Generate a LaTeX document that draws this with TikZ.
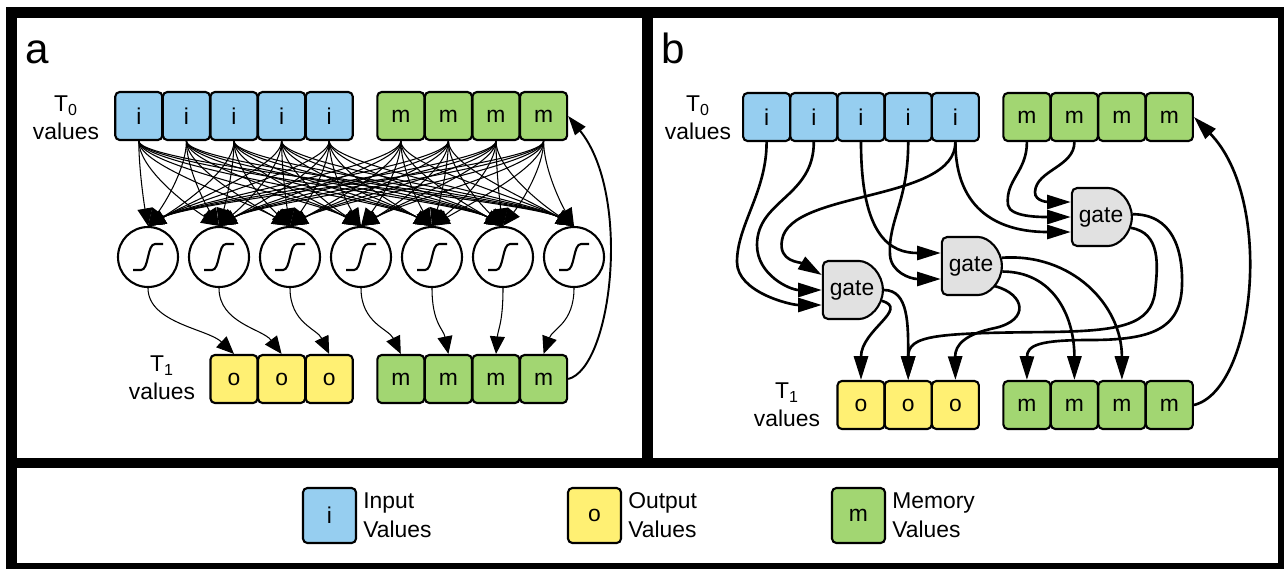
\documentclass[tikz,border=0pt]{standalone}
\usepackage{fontspec}
\setmainfont{Liberation Sans}
\usetikzlibrary{arrows.meta,calc,positioning,shapes.misc}
\definecolor{inblue}{RGB}{150,206,240}
\definecolor{memgreen}{RGB}{162,214,114}
\definecolor{outyellow}{RGB}{255,240,115}
\definecolor{gategray}{RGB}{225,225,225}
\newlength\pxu
\setlength\pxu{0.02cm}

\begin{document}
\begin{tikzpicture}[x=0.02cm,y=-0.02cm,
valbox/.style={rectangle,rounded corners=2.5pt,draw=black,line width=1.2pt,minimum width=47*\pxu,minimum height=48*\pxu,inner sep=0pt,font=\fontsize{13}{16}\selectfont},
inval/.style={valbox,fill=inblue},
outval/.style={valbox,fill=outyellow},
memval/.style={valbox,fill=memgreen},
squash/.style={circle,draw=black,line width=1.2pt,minimum size=60*\pxu,inner sep=0pt},
gatebox/.style={rounded rectangle,rounded rectangle west arc=none,rounded corners=3pt,draw=black,line width=1.2pt,fill=gategray,minimum width=60*\pxu,minimum height=58*\pxu,inner sep=0pt,font=\fontsize{13}{16}\selectfont},
thinedge/.style={line width=0.6pt,-{Triangle[length=10pt,width=8.5pt]}},
thickedge/.style={line width=1.5pt,-{Triangle[length=13.5pt,width=8pt]}},
rowlabel/.style={align=center,font=\fontsize{13}{16}\selectfont},
legtext/.style={align=left,inner sep=0pt,font=\fontsize{13}{16.4}\selectfont},
panellabel/.style={anchor=base west,inner sep=0pt,font=\fontsize{24}{28}\selectfont}]

% frame
\useasboundingbox (0,0) rectangle (1284,569);
\fill[black] (6,7) rectangle (1284,569);
\fill[white] (17,18) rectangle (642,458);
\fill[white] (653,18) rectangle (1278,458);
\fill[white] (17,468) rectangle (1278,563);

%%% panel a
\node[panellabel] (alabel) at (25,63) {a};
\node[rowlabel] (a0lab) at (66,118) {T\textsubscript{0}\\values};
\foreach \k in {1,...,5}
  \node[inval] (ai\k) at ({91.2+47.6*\k},116) {i};
\foreach \k in {1,...,4}
  \node[memval] (am\k) at ({353.2+47.6*\k},116) {m};

\foreach \k in {1,...,7} {
  \node[squash] (as\k) at ({77+71*\k},257) {};
  \draw[line width=1.2pt,line join=round] ($(as\k)+(-15,13)$) -- ++(8,0)
    .. controls +(8,0) and +(-8,0) .. ++(14,-26) -- ++(8,0);
}

\node[rowlabel] (a1lab) at (162,378) {T\textsubscript{1}\\values};
\foreach \k in {1,...,3}
  \node[outval] (ao\k) at ({186.4+47.6*\k},379) {o};
\foreach \k in {1,...,4}
  \node[memval] (an\k) at ({353.2+47.6*\k},379) {m};

% every T0 value feeds every unit
\foreach \src/\sx in {ai1/138.8,ai2/186.4,ai3/234,ai4/281.6,ai5/329.2,am1/400.8,am2/448.4,am3/496,am4/543.6}
  \foreach \k in {1,...,7} {
    \pgfmathsetmacro{\dx}{max(-45,min(45,0.5*(\sx-(77+71*\k))))}
    \draw[thinedge] (\src.south) .. controls +(0,25) and +(\dx,-26) .. (as\k.north);
  }

\foreach \s/\t/\dx in {1/ao1/-26,2/ao2/-19,3/ao3/-12,4/an1/-12,5/an2/-5,6/an3/2,7/an4/9}
  \draw[thinedge] (as\s.south) .. controls +(0,35) and +(\dx,-25) .. (\t.north);

\draw[line width=1.1pt,-{Triangle[length=11pt,width=7.5pt]}] (an4.east) .. controls (612,368) and (632,195) .. (am4.east);

%%% panel b
\node[panellabel] (blabel) at (661,63) {b};
\node[rowlabel] (b0lab) at (698,118) {T\textsubscript{0}\\values};
\foreach \k in {1,...,5}
  \node[inval] (bi\k) at ({719.4+47.2*\k},117) {i};
\foreach \k in {1,...,4}
  \node[memval] (bm\k) at ({979.4+47.5*\k},117) {m};

\node[gatebox] (g1) at (852,290) {gate};
\node[gatebox] (g2) at (971,266) {gate};
\node[gatebox] (g3) at (1101,217) {gate};

\node[rowlabel] (b1lab) at (787,405) {T\textsubscript{1}\\values};
\foreach \k in {1,...,3}
  \node[outval] (bo\k) at ({813.8+47.2*\k},405) {o};
\foreach \k in {1,...,4}
  \node[memval] (bn\k) at ({979.4+47.5*\k},405) {m};

% gate inputs
\coordinate (g1a) at ($(g1.west)+(0,-15)$);
\coordinate (g1b) at (g1.west);
\coordinate (g1c) at ($(g1.west)+(0,15)$);
\coordinate (g2a) at ($(g2.west)+(0,-13)$);
\coordinate (g2b) at ($(g2.west)+(0,13)$);
\coordinate (g3a) at ($(g3.west)+(0,-15)$);
\coordinate (g3b) at (g3.west);
\coordinate (g3c) at ($(g3.west)+(0,15)$);

\draw[thickedge] (bi1.south) .. controls +(0,50) and (737,225) .. (737,262) .. controls (737,292) and (790,305) .. (g1c);
\draw[thickedge] (bi2.south) .. controls +(0,55) and (757,200) .. (757,245) .. controls (757,275) and (790,290) .. (g1b);
\draw[thickedge] (bi5.south) .. controls +(0,60) and (790,190) .. (782,240) .. controls (778,262) and (800,262) .. (g1a);
\draw[thickedge] (bi5.south) .. controls +(0,70) and +(-70,0) .. (g3c);
\draw[thickedge] (bi3.south) .. controls +(0,95) and +(-50,0) .. (g2a);
\draw[thickedge] (bi4.south) .. controls +(0,60) and (888,220) .. (890,255) .. controls (891,272) and (910,279) .. (g2b);
\draw[thickedge] (bm1.south) .. controls +(0,30) and (1005,180) .. (1008,205) .. controls (1010,217) and (1040,217) .. (g3b);
\draw[thickedge] (bm2.south) .. controls +(0,25) and (1036,170) .. (1035,192) .. controls (1034.5,202) and (1050,202) .. (g3a);

% gate outputs
\draw[thickedge] (g1.east) .. controls +(25,0) and +(0,-55) .. (bo2.north);
\draw[thickedge] (g1.-20) .. controls +(28,8) and +(0,-50) .. (bo1.north);
\draw[thickedge] (g2.15) .. controls +(70,-5) and +(0,-75) .. (bn3.north);
\draw[thickedge] (g2.-10) .. controls +(50,0) and +(0,-65) .. (bn2.north);
\draw[thickedge] (g2.-40) .. controls +(30,8) and (1030,320) .. (995,328) .. controls (965,334) and (955,345) .. (bo3.north);
\draw[thickedge] (g3.-20) .. controls +(30,5) and (1158,265) .. (1155,292) .. controls (1151,325) and (1120,331) .. (1050,332) .. controls (935,333) and (908,335) .. (bo2.north);
\draw[thickedge] (g3.5) .. controls +(40,0) and (1183,250) .. (1182,285) .. controls (1181,330) and (1150,340) .. (1090,340) .. controls (1040,340) and (1027,345) .. (bn1.north);

\draw[thickedge] (bn4.east) .. controls (1255,390) and (1275,200) .. (bm4.east);

%%% legend
\node[inval,minimum width=53*\pxu,minimum height=55*\pxu] (li) at (329.5,515.5) {i};
\node[legtext,right=3.4pt of li] (litext) {Input\\Values};
\node[outval,minimum width=53*\pxu,minimum height=55*\pxu] (lo) at (594.5,515.5) {o};
\node[legtext,right=3.4pt of lo] (lotext) {Output\\Values};
\node[memval,minimum width=53*\pxu,minimum height=55*\pxu] (lm) at (858.5,515.5) {m};
\node[legtext,right=3.4pt of lm] (lmtext) {Memory\\Values};

\end{tikzpicture}
\end{document}
